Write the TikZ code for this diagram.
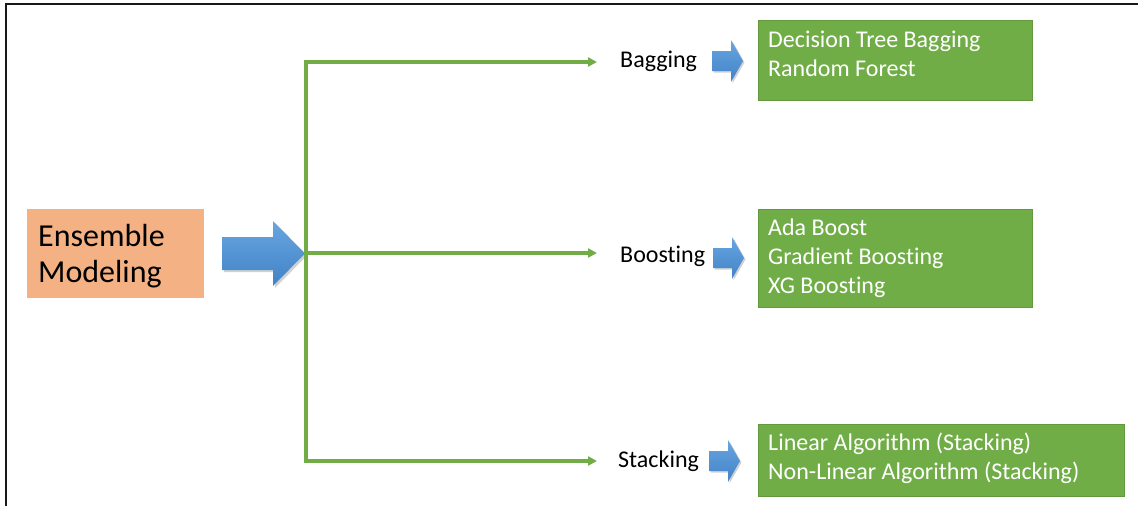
\documentclass[tikz,border=0pt]{standalone}
\usepackage{fontspec}
\setmainfont{Carlito}[Ligatures=NoCommon]
\usetikzlibrary{arrows.meta}
\definecolor{gline}{RGB}{112,173,71}
\definecolor{gfill}{RGB}{112,173,71}
\definecolor{gedge}{RGB}{98,152,62}
\definecolor{ofill}{RGB}{244,177,131}
\definecolor{bluetop}{RGB}{104,166,225}
\definecolor{bluebot}{RGB}{66,130,198}
\tikzset{
  gconn/.style={draw=gline, line width=3.5pt, line join=miter, -{Triangle[length=9pt,width=9pt]}},
  gbox/.style={draw=gedge, line width=0.8pt, fill=gfill, inner sep=0pt, anchor=north west},
  gtext/.style={text=white, font=\fontsize{24}{29}\selectfont, align=left, anchor=base west, inner sep=0pt},
  labtext/.style={text=black, font=\fontsize{24}{29}\selectfont, anchor=base west, inner sep=0pt},
  bshade/.style={top color=bluetop, bottom color=bluebot, draw=none},
  bshadow/.style={fill=black, opacity=0.18},
  pics/smallarrow/.style={code={
    \fill[bshadow] (1.5,-8.5) -- (20.5,-8.5) -- (20.5,-19.5) -- (32.5,1.5) -- (20.5,22.5) -- (20.5,11.5) -- (1.5,11.5) -- cycle;
    \shade[bshade] (0,-10) -- (19,-10) -- (19,-21) -- (31,0) -- (19,21) -- (19,10) -- (0,10) -- cycle;
  }}
}
\begin{document}
\begin{tikzpicture}[x=1pt,y=-1pt]
\useasboundingbox (0,0) rectangle (1138,506);
\fill[white] (0,0) rectangle (1138,506);
% frame
\draw[line width=2.5pt, black!90] (6,506) -- (6,4) -- (1138,4);

% Ensemble modeling box
\node[fill=ofill, inner sep=0pt, minimum width=177pt, minimum height=89pt, anchor=north west] (ens) at (27,209) {};
\node[text=black, font=\fontsize{32}{36}\selectfont, align=left, anchor=base west, inner sep=0pt] (enstext) at (38,282) {Ensemble\\Modeling};

% big blue arrow
\fill[bshadow] (224,239) -- (275,239) -- (275,223) -- (307,255.5) -- (275,288) -- (275,272) -- (224,272) -- cycle;
\shade[bshade] (222,237) -- (273,237) -- (273,221) -- (305,253.5) -- (273,286) -- (273,270) -- (222,270) -- cycle;

% connectors
\coordinate (hub) at (306,253);
\coordinate (bagEnd) at (597,62);
\coordinate (boostEnd) at (597,253);
\coordinate (stackEnd) at (597,461);
\draw[gconn] (hub) |- (bagEnd);
\draw[gconn] (hub) -- (boostEnd);
\draw[gconn] (hub) |- (stackEnd);

% labels
\node[labtext] (bag) at (620,67) {Bagging};
\node[labtext] (boost) at (620,262) {Boosting};
\node[labtext] (stack) at (618,467) {Stacking};

% small arrows
\pic (bagarrow) at (712,61) {smallarrow};
\pic (boostarrow) at (713,258) {smallarrow};
\pic (stackarrow) at (709,461) {smallarrow};

% green boxes
\node[gbox, minimum width=274pt, minimum height=80pt] (bagbox) at (758,20) {};
\node[gtext] (bagtext) at (768,76) {Decision Tree Bagging\\Random Forest};

\node[gbox, minimum width=274pt, minimum height=98pt] (boostbox) at (758,209) {};
\node[gtext] (boosttext) at (768,293) {Ada Boost\\Gradient Boosting\\XG Boosting};

\node[gbox, minimum width=366pt, minimum height=72pt] (stackbox) at (758,424) {};
\node[gtext] (stacktext) at (768,479) {Linear Algorithm (Stacking)\\Non-Linear Algorithm (Stacking)};
\end{tikzpicture}
\end{document}
